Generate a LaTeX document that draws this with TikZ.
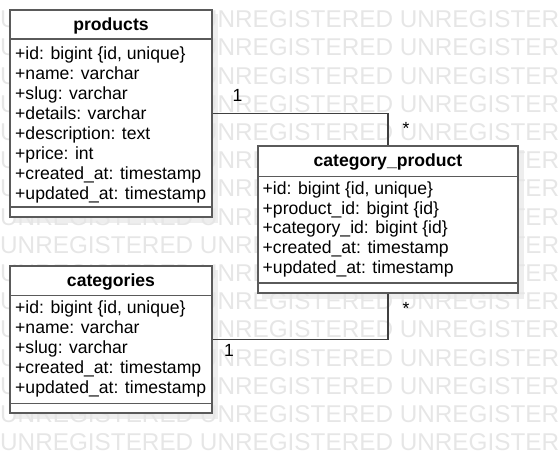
\documentclass[tikz,border=0pt]{standalone}
\usepackage{fontspec}
\setmainfont{Liberation Sans}
\definecolor{boxline}{HTML}{5A5A5A}
\definecolor{connline}{HTML}{404040}
\definecolor{wmgray}{HTML}{E6E6E6}
\definecolor{shadowgray}{HTML}{EEEEEE}
\tikzset{
  classbox/.style={rectangle, draw=boxline, line width=1.5pt, fill=white, inner sep=0pt},
  divider/.style={draw=boxline, line width=1.5pt},
  conn/.style={draw=connline, line width=1.1pt},
  titletext/.style={anchor=base, inner sep=0pt, font=\fontsize{17.6}{20}\selectfont\bfseries},
  attrtext/.style={anchor=base west, inner sep=0pt, font=\fontsize{17.6}{20}\selectfont},
  multtext/.style={anchor=base, inner sep=0pt, font=\fontsize{17.6}{20}\selectfont},
  wmtext/.style={anchor=base west, inner sep=0pt, text=wmgray, font=\fontsize{24.3}{28}\selectfont}
}
\pgfdeclarelayer{shadowlayer}
\pgfdeclarelayer{wmlayer}
\pgfsetlayers{shadowlayer,wmlayer,main}
\begin{document}
\begin{tikzpicture}[x=1pt,y=-1pt]
\useasboundingbox (0,0) rectangle (558,453);
\begin{pgfonlayer}{wmlayer}
\foreach \k in {0,...,15} {
  \node[wmtext] (wm\k) at (0,{27.7+28.2*\k}) {UNREGISTERED UNREGISTERED UNREGISTERED};
}
\end{pgfonlayer}
\node[classbox, minimum width=202pt, minimum height=207pt] (products) at (111,113.5) {};
\node[classbox, minimum width=260pt, minimum height=147pt] (cp) at (388,219.5) {};
\node[classbox, minimum width=202pt, minimum height=147pt] (categories) at (111,339.5) {};
\begin{pgfonlayer}{shadowlayer}
\foreach \b in {products,cp,categories} {
  \fill[shadowgray] ([shift={(5,5)}]\b.north west) rectangle ([shift={(5,5)}]\b.south east);
}
\end{pgfonlayer}
\draw[divider] (products.west |- 0,39) -- (products.east |- 0,39);
\draw[divider] (products.west |- 0,207) -- (products.east |- 0,207);
\draw[divider] (cp.west |- 0,176.5) -- (cp.east |- 0,176.5);
\draw[divider] (cp.west |- 0,283) -- (cp.east |- 0,283);
\draw[divider] (categories.west |- 0,295.5) -- (categories.east |- 0,295.5);
\draw[divider] (categories.west |- 0,403.5) -- (categories.east |- 0,403.5);
\node[titletext] (products-title) at (111,30.5) {products};
\node[titletext] (cp-title) at (388,166.5) {category\_product};
\node[titletext] (categories-title) at (111,286.5) {categories};
\foreach \t [count=\i from 0] in {{+id: bigint \{id, unique\}},{+name: varchar},{+slug: varchar},{+details: varchar},{+description: text},{+price: int},{+created\_at: timestamp},{+updated\_at: timestamp}} {
  \node[attrtext] (pa\i) at (15,{59.5+20*\i}) {\t};
}
\foreach \t [count=\i from 0] in {{+id: bigint \{id, unique\}},{+product\_id: bigint \{id\}},{+category\_id: bigint \{id\}},{+created\_at: timestamp},{+updated\_at: timestamp}} {
  \node[attrtext] (ca\i) at (262.5,{194.3+19.8*\i}) {\t};
}
\foreach \t [count=\i from 0] in {{+id: bigint \{id, unique\}},{+name: varchar},{+slug: varchar},{+created\_at: timestamp},{+updated\_at: timestamp}} {
  \node[attrtext] (ga\i) at (15,{313.8+19.8*\i}) {\t};
}
\draw[conn] (products.east) -| (cp.north);
\draw[conn] (categories.east) -| (cp.south);
\node[multtext] (m1) at (237.5,101.7) {1};
\node[multtext] (m2) at (406,134.5) {*};
\node[multtext] (m3) at (229,356.7) {1};
\node[multtext] (m4) at (406,314) {*};
\end{tikzpicture}
\end{document}
